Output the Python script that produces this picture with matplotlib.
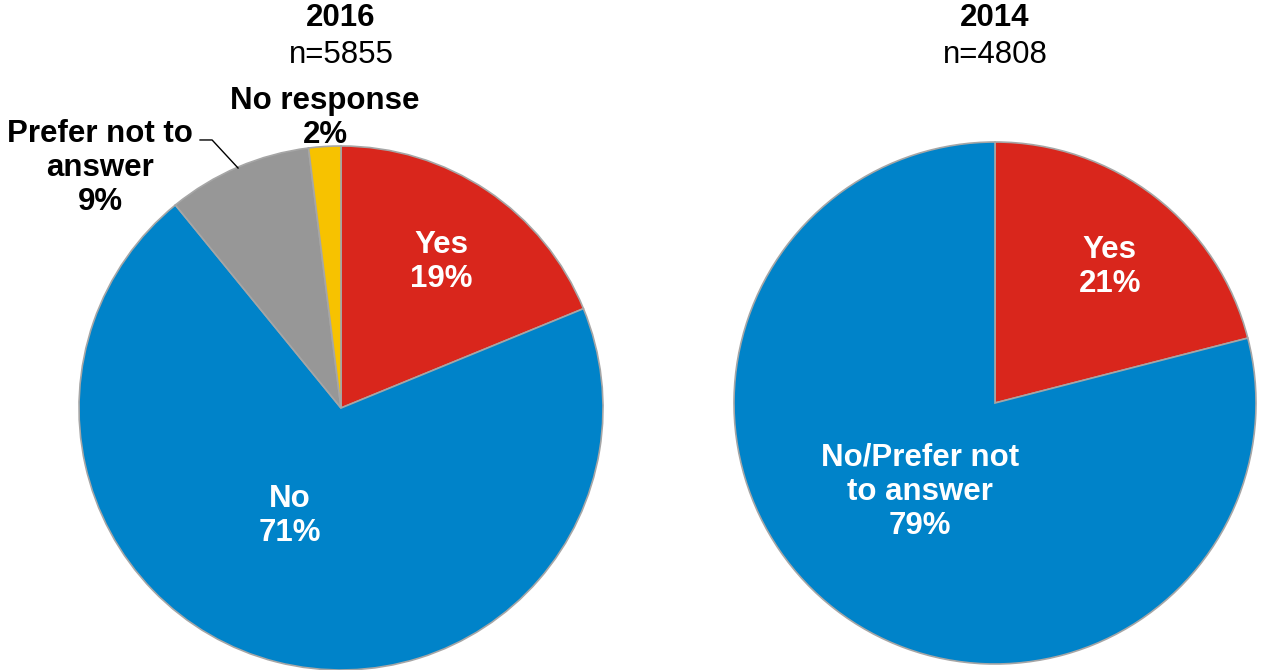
import matplotlib
matplotlib.use('Agg')
import matplotlib.pyplot as plt

plt.rcParams['font.family'] = ['Liberation Sans', 'DejaVu Sans']

# 2016 survey
labels2016 = ['Yes', 'No', 'Prefer not to\nanswer', 'No response']
values2016 = [19, 71, 9, 2]
n2016 = 5855

# 2014 survey
labels2014 = ['Yes', 'No/Prefer not\nto answer']
values2014 = [21, 79]
n2014 = 4808

red = '#d9261c'
blue = '#0083c9'
gray = '#979797'
yellow = '#f7c200'
edge = '#a6a6a6'

W , H = 1263 , 670
fig = plt.figure(figsize = [W / 100 , H / 100] , dpi = 100)

def pieAxes(cx , cy , r):
    # axes box in pixels, pie of radius 1 fills it
    ax = fig.add_axes([(cx - r) / W , (H - cy - r) / H , 2 * r / W , 2 * r / H])
    ax.set_xlim(-1 , 1)
    ax.set_ylim(-1 , 1)
    ax.axis('off')
    return ax

wp = {'edgecolor' : edge , 'linewidth' : 1.2}
fs = 22.5
ls = 1.18

########## 2016 ##########
ax1 = pieAxes(341 , 408 , 262)
ax1.pie(values2016 , colors = [red , blue , gray , yellow] , startangle = 90 , counterclock = False ,
        radius = 1 , wedgeprops = wp , frame = False)
ax1.set_xlim(-1 , 1)
ax1.set_ylim(-1 , 1)
ax1.text(0 , 1.489 , '2016' , ha = 'center' , va = 'center' , fontsize = fs , fontweight = 'bold')
ax1.text(0 , 1.347 , f'n={n2016}' , ha = 'center' , va = 'center' , fontsize = fs)
ax1.text(0.382 , 0.557 , f'{labels2016[0]}\n{values2016[0]}%' , ha = 'center' , va = 'center' ,
         fontsize = fs , fontweight = 'bold' , color = 'white' , linespacing = ls)
ax1.text(-0.195 , -0.412 , f'{labels2016[1]}\n{values2016[1]}%' , ha = 'center' , va = 'center' ,
         fontsize = fs , fontweight = 'bold' , color = 'white' , linespacing = ls)
ax1.text(-0.92 , 0.916 , f'{labels2016[2]}\n{values2016[2]}%' , ha = 'center' , va = 'center' ,
         fontsize = fs , fontweight = 'bold' , color = 'black' , linespacing = ls)
ax1.text(-0.061 , 1.107 , f'{labels2016[3]}\n{values2016[3]}%' , ha = 'center' , va = 'center' ,
         fontsize = fs , fontweight = 'bold' , color = 'black' , linespacing = ls)
ax1.plot([-0.538 , -0.492 , -0.393] , [1.023 , 1.023 , 0.916] , color = 'black' , lw = 1 , clip_on = False)

########## 2014 ##########
ax2 = pieAxes(995 , 403 , 261)
ax2.pie(values2014 , colors = [red , blue] , startangle = 90 , counterclock = False ,
        radius = 1 , wedgeprops = wp , frame = False)
ax2.set_xlim(-1 , 1)
ax2.set_ylim(-1 , 1)
ax2.text(0 , 1.475 , '2014' , ha = 'center' , va = 'center' , fontsize = fs , fontweight = 'bold')
ax2.text(0 , 1.333 , f'n={n2014}' , ha = 'center' , va = 'center' , fontsize = fs)
ax2.text(0.44 , 0.521 , f'{labels2014[0]}\n{values2014[0]}%' , ha = 'center' , va = 'center' ,
         fontsize = fs , fontweight = 'bold' , color = 'white' , linespacing = ls)
ax2.text(-0.287 , -0.341 , f'{labels2014[1]}\n{values2014[1]}%' , ha = 'center' , va = 'center' ,
         fontsize = fs , fontweight = 'bold' , color = 'white' , linespacing = ls)

fig.savefig('out.png' , dpi = 100)
